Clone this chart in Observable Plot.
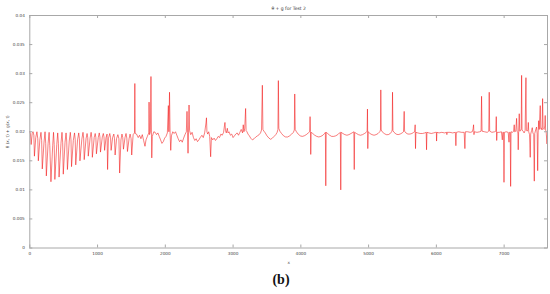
<!DOCTYPE html>
<html>
<head>
<meta charset="utf-8">
<script src="https://cdn.jsdelivr.net/npm/d3@7"></script>
<script src="https://cdn.jsdelivr.net/npm/@observablehq/plot@0.6"></script>
<style>
  html, body { margin: 0; padding: 0; background: #fff; }
  #wrap { position: relative; width: 550px; height: 294px; }
  #cap { position: absolute; left: 0; width: 562px; top: 272px; text-align: center;
         font: bold 14px "Liberation Serif", "DejaVu Serif", serif; color: #111; }
</style>
</head>
<body>
<div id="wrap"><div id="chart"></div><div id="cap">(b)</div></div>
<script>
const title = "θ + g for Test 2";
const yLabel = "θ (x, t) + g(x, t)";
const xLabel = "x";
const xTicks = [0, 1000, 2000, 3000, 4000, 5000, 6000, 7000];
const xTickLabels = ["0", "1000", "2000", "3000", "4000", "5000", "6000", "7000"];
const yTicks = [0, 0.005, 0.01, 0.015, 0.02, 0.025, 0.03, 0.035, 0.04];
const yTickLabels = ["0", "0.005", "0.01", "0.015", "0.02", "0.025", "0.03", "0.035", "0.04"];

// segment 0 – 1545 : saw-tooth dips
const seg1 = [[0,0.0200],[10,0.0196],[20,0.0178],[35,0.0197],[48,0.0200],
[60,0.0194],[68,0.0158],[88,0.0190],[105,0.0200],
[118,0.0188],[126,0.0150],[148,0.0186],[165,0.0199],
[175,0.0185],[184,0.0136],[210,0.0182],[225,0.0200],
[235,0.0180],[244,0.0124],[270,0.0180],[285,0.0199],
[295,0.0176],[312,0.0114],[338,0.0176],[350,0.0199],
[360,0.0178],[370,0.0118],[398,0.0178],[412,0.0198],
[422,0.0180],[432,0.0122],[460,0.0180],[475,0.0199],
[485,0.0182],[494,0.0127],[520,0.0182],[535,0.0198],
[545,0.0184],[555,0.0135],[582,0.0184],[598,0.0199],
[608,0.0186],[616,0.0140],[642,0.0185],[660,0.0198],
[670,0.0187],[678,0.0143],[705,0.0186],[722,0.0198],
[732,0.0188],[740,0.0150],[768,0.0187],[785,0.0199],
[795,0.0189],[803,0.0152],[830,0.0188],[845,0.0197],
[855,0.0190],[863,0.0158],[890,0.0189],[905,0.0199],
[915,0.0190],[923,0.0156],[950,0.0190],[965,0.0197],
[975,0.0190],[983,0.0162],[1010,0.0190],[1025,0.0198],
[1035,0.0191],[1043,0.0165],[1070,0.0191],[1085,0.0197],
[1095,0.0191],[1104,0.0168],[1125,0.0190],[1140,0.0196],
[1148,0.0135],[1160,0.0188],[1180,0.0197],
[1192,0.0190],[1200,0.0168],[1222,0.0190],[1240,0.0196],
[1250,0.0188],[1259,0.0160],[1280,0.0188],[1300,0.0195],
[1315,0.0188],[1326,0.0129],[1345,0.0186],[1360,0.0196],
[1372,0.0190],[1382,0.0170],[1405,0.0190],[1420,0.0197],
[1432,0.0189],[1441,0.0166],[1465,0.0188],[1480,0.0196],
[1495,0.0188],[1504,0.0160],[1525,0.0195],[1545,0.0198]];

// segment 1545 – 3100 : large spikes
const seg2 = [[1550,0.0283],[1555,0.0197],[1575,0.0196],[1600,0.0190],[1620,0.0194],[1640,0.0188],[1660,0.0195],[1680,0.0185],[1700,0.0175],[1715,0.0186],[1735,0.0192],[1755,0.0198],[1760,0.0251],[1768,0.0195],[1780,0.0200],[1788,0.0295],[1795,0.0198],[1800,0.0155],[1808,0.0192],[1830,0.0200],[1850,0.0199],[1870,0.0195],[1890,0.0198],[1910,0.0192],[1930,0.0186],[1950,0.0180],[1970,0.0183],[1990,0.0189],[2010,0.0192],[2030,0.0198],[2045,0.0245],[2052,0.0200],[2062,0.0268],[2070,0.0198],[2080,0.0168],[2090,0.0193],[2110,0.0200],[2130,0.0197],[2150,0.0200],[2170,0.0194],[2190,0.0188],[2210,0.0183],[2230,0.0186],[2250,0.0182],[2270,0.0189],[2290,0.0195],[2310,0.0200],[2320,0.0235],[2328,0.0199],[2335,0.0163],[2342,0.0198],[2350,0.0246],[2358,0.0202],[2375,0.0195],[2395,0.0199],[2415,0.0190],[2435,0.0185],[2455,0.0188],[2475,0.0183],[2495,0.0186],[2515,0.0190],[2540,0.0194],[2560,0.0190],[2580,0.0198],[2600,0.0215],[2607,0.0224],[2614,0.0200],[2625,0.0196],[2640,0.0200],[2655,0.0192],[2669,0.0157],[2680,0.0190],[2700,0.0186],[2720,0.0189],[2740,0.0185],[2760,0.0188],[2780,0.0192],[2800,0.0190],[2820,0.0196],[2840,0.0194],[2860,0.0199],[2872,0.0210],[2880,0.0216],[2888,0.0202],[2900,0.0198],[2915,0.0206],[2925,0.0198],[2940,0.0200],[2960,0.0194],[2980,0.0196],[3000,0.0190],[3020,0.0193],[3040,0.0196],[3060,0.0198],[3080,0.0194],[3100,0.0199]];

// segment 3100 – 4800 : scallops with up and down spikes
const seg3 = [[3120,0.0204],[3140,0.0198],[3150,0.0212],[3160,0.0200],[3172,0.0206],[3185,0.0240],[3192,0.0202],[3205,0.0200],[3220,0.0196],[3240,0.0193],[3260,0.0189],[3285,0.0186],[3310,0.0188],[3335,0.0191],[3360,0.0193],[3385,0.0195],[3405,0.0198],[3420,0.0203],[3432,0.0280],[3440,0.0204],[3455,0.0201],[3475,0.0198],[3500,0.0193],[3530,0.0189],[3555,0.0187],[3580,0.0189],[3605,0.0192],[3630,0.0195],[3650,0.0199],[3662,0.0204],[3668,0.0288],[3675,0.0206],[3690,0.0201],[3715,0.0197],[3745,0.0193],[3775,0.0191],[3805,0.0191],[3835,0.0193],[3865,0.0196],[3890,0.0199],[3904,0.0203],[3910,0.0265],[3917,0.0204],[3935,0.0200],[3960,0.0196],[3990,0.0193],[4020,0.0192],[4050,0.0193],[4080,0.0195],[4110,0.0198],[4130,0.0200],[4136,0.0226],[4142,0.0200],[4146,0.0161],[4152,0.0199],[4175,0.0197],[4205,0.0194],[4235,0.0192],[4265,0.0191],[4295,0.0192],[4325,0.0194],[4350,0.0197],[4362,0.0199],[4368,0.0107],[4374,0.0199],[4395,0.0197],[4425,0.0194],[4455,0.0192],[4485,0.0192],[4515,0.0193],[4545,0.0195],[4570,0.0198],[4583,0.0199],[4589,0.0100],[4595,0.0199],[4620,0.0197],[4650,0.0195],[4680,0.0194],[4710,0.0195],[4740,0.0197],[4770,0.0199],[4782,0.0200],[4788,0.0135],[4794,0.0199]];

// segment 4800 – 6010
const seg4 = [[4820,0.0197],[4850,0.0195],[4880,0.0194],[4910,0.0195],[4940,0.0197],[4965,0.0199],[4978,0.0201],[4983,0.0239],[4988,0.0171],[4994,0.0200],[5020,0.0197],[5050,0.0195],[5080,0.0194],[5110,0.0195],[5140,0.0197],[5165,0.0200],[5175,0.0203],[5180,0.0272],[5186,0.0203],[5200,0.0200],[5230,0.0197],[5260,0.0195],[5290,0.0195],[5320,0.0197],[5340,0.0200],[5348,0.0203],[5353,0.0268],[5359,0.0202],[5375,0.0199],[5405,0.0196],[5435,0.0195],[5465,0.0196],[5495,0.0198],[5515,0.0200],[5525,0.0235],[5531,0.0201],[5550,0.0198],[5580,0.0196],[5610,0.0196],[5640,0.0197],[5665,0.0199],[5680,0.0200],[5687,0.0212],[5692,0.0171],[5698,0.0199],[5725,0.0198],[5760,0.0197],[5795,0.0197],[5830,0.0198],[5850,0.0199],[5855,0.0169],[5861,0.0199],[5890,0.0198],[5925,0.0197],[5960,0.0198],[5990,0.0199],[6000,0.0199],[6003,0.0184],[6008,0.0199]];

// segment 6010 – end
const seg5 = [[6040,0.0198],[6080,0.0199],[6120,0.0198],[6150,0.0199],[6155,0.0195],[6160,0.0199],[6200,0.0199],[6240,0.0198],[6280,0.0199],[6288,0.0176],[6295,0.0199],[6330,0.0200],[6370,0.0199],[6410,0.0199],[6421,0.0171],[6428,0.0200],[6460,0.0200],[6500,0.0199],[6530,0.0200],[6542,0.0205],[6549,0.0212],[6555,0.0195],[6560,0.0200],[6600,0.0199],[6640,0.0200],[6660,0.0201],[6667,0.0261],[6674,0.0201],[6710,0.0200],[6750,0.0199],[6773,0.0201],[6780,0.0268],[6787,0.0201],[6820,0.0199],[6860,0.0200],[6878,0.0201],[6884,0.0226],[6890,0.0185],[6896,0.0199],[6930,0.0199],[6960,0.0200],[6973,0.0186],[6980,0.0199],[6992,0.0199],[6998,0.0113],[7004,0.0199],[7030,0.0200],[7060,0.0199],[7072,0.0182],[7078,0.0199],[7090,0.0199],[7096,0.0106],[7102,0.0200],[7125,0.0199],[7140,0.0201],[7149,0.0212],[7155,0.0200],[7172,0.0201],[7184,0.0223],[7192,0.0200],[7203,0.0199],[7208,0.0169],[7214,0.0200],[7223,0.0231],[7230,0.0201],[7245,0.0202],[7252,0.0205],[7258,0.0297],[7264,0.0203],[7280,0.0201],[7295,0.0198],[7310,0.0202],[7322,0.0293],[7328,0.0203],[7340,0.0201],[7350,0.0204],[7357,0.0216],[7363,0.0200],[7375,0.0195],[7385,0.0156],[7392,0.0196],[7405,0.0202],[7415,0.0207],[7425,0.0198],[7437,0.0195],[7445,0.0115],[7452,0.0197],[7465,0.0203],[7478,0.0208],[7488,0.0196],[7495,0.0133],[7502,0.0198],[7510,0.0219],[7518,0.0204],[7533,0.0245],[7540,0.0205],[7550,0.0206],[7560,0.0203],[7568,0.0257],[7575,0.0206],[7590,0.0204],[7600,0.0210],[7606,0.0228],[7612,0.0203],[7620,0.0200],[7633,0.0179],[7640,0.0195]];

const data = [...seg1, ...seg2, ...seg3, ...seg4, ...seg5].map(([x, y]) => ({x, y}));

const W = 550, H = 270, mT = 15, mB = 22.5, mL = 29.3, mR = 3;
const innerH = H - mT - mB, innerW = W - mL - mR;
const tick = 3;
const axisColor = "#a8a8a8";

const chart = Plot.plot({
  width: W, height: H,
  marginTop: mT, marginBottom: mB, marginLeft: mL, marginRight: mR,
  style: {fontFamily: "'DejaVu Sans', sans-serif", fontSize: "4.2px", color: "#444", background: "#fff"},
  x: {domain: [0, 7640]},
  y: {domain: [0, 0.04]},
  marks: [
    Plot.line(data, {x: "x", y: "y", stroke: "#f21010", strokeWidth: 0.55}),
    Plot.frame({stroke: axisColor, strokeWidth: 1}),
    Plot.ruleX(xTicks, {insetTop: innerH - tick, stroke: axisColor}),
    Plot.ruleX(xTicks, {insetBottom: innerH - tick, stroke: axisColor}),
    Plot.ruleY(yTicks, {insetRight: innerW - tick, stroke: axisColor}),
    Plot.ruleY(yTicks, {insetLeft: innerW - tick, stroke: axisColor}),
    Plot.axisX(xTicks, {anchor: "bottom", tickSize: 0, tickPadding: 4,
      tickFormat: (d, i) => xTickLabels[i], label: xLabel, labelAnchor: "center", labelOffset: 16, labelArrow: "none"}),
    Plot.axisY(yTicks, {anchor: "left", tickSize: 0, tickPadding: 5,
      tickFormat: (d, i) => yTickLabels[i], label: yLabel, labelAnchor: "center", labelOffset: 24, labelArrow: "none"}),
    Plot.text([title], {frameAnchor: "top", dy: -9, fontSize: 4.5, fill: "#333"})
  ]
});
document.getElementById("chart").appendChild(chart);
</script>
</body>
</html>
